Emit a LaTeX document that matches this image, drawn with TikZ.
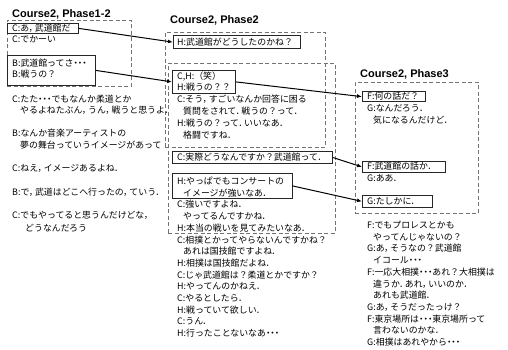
\documentclass[tikz,border=0pt]{standalone}
\usepackage{fontspec}
\newfontfamily\jpfont{Noto Sans CJK JP}
\newfontfamily\jpp[RawFeature=+palt]{Noto Sans CJK JP}
\newfontfamily\ttlfont{Liberation Sans}
\newcommand\JC{{\jpp ，}\hspace{1.2pt}}
\newcommand\JP{{\jpp ．}\hspace{0.6pt}}
\newcommand\JD{{\jpp ・・・}}
\usetikzlibrary{arrows.meta}
\begin{document}
\begin{tikzpicture}[x=1pt,y=-1pt,
  jt/.style={font=\jpfont\fontsize{8.9}{11}\selectfont, anchor=base west, inner sep=0pt},
  ttl/.style={font=\ttlfont\bfseries\fontsize{11}{13}\selectfont, anchor=base west, inner sep=0pt},
  jbox/.style={draw=black!85, line width=0.8pt, inner sep=0pt, anchor=north west},
  dbox/.style={draw=black!55, line width=0.8pt, dash pattern=on 4pt off 2.5pt, inner sep=0pt, anchor=north west},
  conn/.style={line width=1pt, -{Latex[length=5pt,width=4pt]}}]
\useasboundingbox[fill=white] (0,0) rectangle (508,350);

% titles
\node[ttl] (title1) at (12,17.5) {Course2, Phase1-2};
\node[ttl] (title2) at (170,24) {Course2, Phase2};
\node[ttl] (title3) at (360,77.5) {Course2, Phase3};

% dashed groups
\node[dbox, minimum width=124pt, minimum height=66pt] (g1) at (7,20) {};
\node[dbox, minimum width=160pt, minimum height=115pt] (g2a) at (165,32) {};
\node[dbox, minimum width=167pt, minimum height=170pt] (g2b) at (168,63) {};
\node[dbox, minimum width=123pt, minimum height=131pt] (g3) at (355,82) {};

% solid boxes
\node[jbox, minimum width=71pt, minimum height=10pt] (b1) at (7,23) {};
\node[jbox, minimum width=88pt, minimum height=30pt] (b2) at (7,55) {};
\node[jbox, minimum width=127pt, minimum height=12.5pt] (h1) at (173,35.5) {};
\node[jbox, minimum width=63pt, minimum height=23pt] (h2) at (172,70) {};
\node[jbox, minimum width=160pt, minimum height=12pt] (h3) at (171.7,151) {};
\node[jbox, minimum width=120pt, minimum height=25pt] (h4) at (171.7,173) {};
\node[jbox, minimum width=63pt, minimum height=10.5pt] (f1) at (362,91) {};
\node[jbox, minimum width=83pt, minimum height=11pt] (f2) at (362,161) {};
\node[jbox, minimum width=70pt, minimum height=12pt] (f3) at (362,195) {};

% Phase1-2 texts
\node[jt] (a1) at (12,31.8) {C:あ\JC 武道館だ};
\node[jt] (a2) at (12,43) {C:でかーい};
\node[jt] (a3) at (12,66.6) {B:武道館ってさ\JD};
\node[jt] (a4) at (12,77.8) {B:戦うの？};
\node[jt] (a5) at (12,102.1) {C:たた\JD でもなんか柔道とか};
\node[jt] (a6) at (20,113.5) {やるよねたぶん\JC うん\JC 戦うと思うよ\JP};
\node[jt] (a7) at (12,136.3) {B:なんか音楽アーティストの};
\node[jt] (a8) at (20,148.4) {夢の舞台っていうイメージがあって};
\node[jt] (a9) at (12,171.5) {C:ねえ\JC イメージあるよね\JP};
\node[jt] (a10) at (12,195.4) {B:で\JC 武道はどこへ行ったの\JC ていう\JP};
\node[jt] (a11) at (12,218.4) {C:でもやってると思うんだけどな\JC};
\node[jt] (a12) at (25,231) {どうなんだろう};

% Phase2 texts
\node[jt] (c1) at (177,45.4) {H:武道館がどうしたのかね？};
\node[jt] (c2) at (177,79.5) {C,H:（笑）};
\node[jt] (c3) at (177,90.8) {H:戦うの？？};
\node[jt] (c4) at (177,102.6) {C:そう\JC すごいなんか回答に困る};
\node[jt] (c5) at (183,114.4) {質問をされて\JP 戦うの？って\JP};
\node[jt] (c6) at (177,126.3) {H:戦うの？って\JP いいなあ\JP};
\node[jt] (c7) at (183,138.4) {格闘ですね\JP};
\node[jt] (c8) at (177,160.5) {C:実際どうなんですか？武道館って\JP};
\node[jt] (c9) at (177,184.4) {H:やっぱでもコンサートの};
\node[jt] (c10) at (183,196.4) {イメージが強いなあ\JP};
\node[jt] (c11) at (177,207.5) {C:強いですよね\JP};
\node[jt] (c12) at (183,219.4) {やってるんですかね\JP};
\node[jt] (c13) at (177,231.2) {H:本当の戦いを見てみたいなあ\JP};
\node[jt] (c14) at (177,243) {C:相撲とかってやらないんですかね？};
\node[jt] (c15) at (183,254.6) {あれは国技館ですよね\JP};
\node[jt] (c16) at (177,266.3) {H:相撲は国技館だよね\JP};
\node[jt] (c17) at (177,278) {C:じゃ武道館は？柔道とかですか？};
\node[jt] (c18) at (177,289.6) {H:やってんのかねえ\JP};
\node[jt] (c19) at (177,301.3) {C:やるとしたら\JP};
\node[jt] (c20) at (177,313) {H:戦っていて欲しい\JP};
\node[jt] (c21) at (177,324.6) {C:うん\JP};
\node[jt] (c22) at (177,336.3) {H:行ったことないなあ\JD};

% Phase3 texts
\node[jt] (e1) at (367,99.6) {F:何の話だ？};
\node[jt] (e2) at (367,111.5) {G:なんだろう\JP};
\node[jt] (e3) at (373,123.4) {気になるんだけど\JP};
\node[jt] (e4) at (367,169.8) {F:武道館の話か\JP};
\node[jt] (e5) at (367,181.5) {G:ああ\JP};
\node[jt] (e6) at (367,204.5) {G:たしかに\JP};
\node[jt] (e7) at (367,228.4) {F:でもプロレスとかも};
\node[jt] (e8) at (373,240.2) {やってんじゃないの？};
\node[jt] (e9) at (367,251.8) {G:あ\JC そうなの？武道館};
\node[jt] (e10) at (373,263.5) {イコール\JD};
\node[jt] (e11) at (367,275.3) {F:一応大相撲\JD あれ？大相撲は};
\node[jt] (e12) at (373,287.2) {違うか\JP あれ\JC いいのか\JP};
\node[jt] (e13) at (373,298.6) {あれも武道館\JP};
\node[jt] (e14) at (367,310.4) {G:あ\JC そうだったっけ？};
\node[jt] (e15) at (367,322.2) {F:東京場所は\JD 東京場所って};
\node[jt] (e16) at (373,333.6) {言わないのかな\JP};
\node[jt] (e17) at (367,345.4) {G:相撲はあれやから\JD};

% connectors
\draw[conn] (b1.east) -- (h1.west);
\draw[conn] (b2.east) -- (h2.west);
\draw[conn] (h2.east) -- (f1.west);
\draw[conn] (h3.east) -- (f2.west);
\draw[conn] (h4.east) -- (f3.west);
\end{tikzpicture}
\end{document}
